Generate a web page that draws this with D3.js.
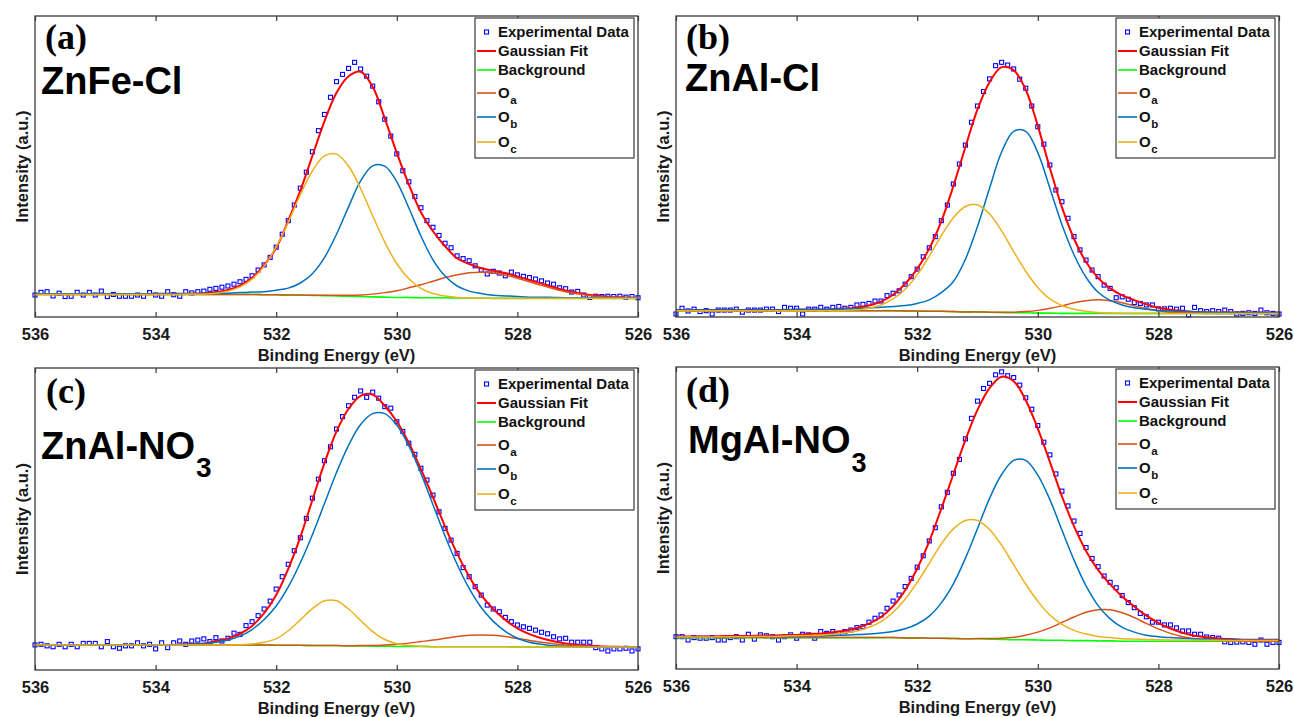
<!DOCTYPE html>
<html>
<head>
<meta charset="utf-8">
<script src="https://cdn.jsdelivr.net/npm/d3@7"></script>
<style>
  html, body { margin: 0; padding: 0; background: #ffffff; }
  svg { display: block; }
</style>
</head>
<body>
<svg id="chart" width="1294" height="717"></svg>
<script>
// ---------------- DATA ----------------
// Binding energy grid of the fitted curves (eV)
const energyFit = [536.0,535.8,535.6,535.4,535.2,535.0,534.8,534.6,534.4,534.2,534.0,533.8,533.6,533.4,533.2,533.0,532.8,532.6,532.4,532.2,532.0,531.8,531.6,531.4,531.2,531.0,530.8,530.6,530.4,530.2,530.0,529.8,529.6,529.4,529.2,529.0,528.8,528.6,528.4,528.2,528.0,527.8,527.6,527.4,527.2,527.0,526.8,526.6,526.4,526.2,526.0];
// Binding energy of the experimental points (eV)
const energyData = [536.0,535.9,535.8,535.7,535.6,535.5,535.4,535.3,535.2,535.1,
  535.0,534.9,534.8,534.7,534.6,534.5,534.4,534.3,534.2,534.1,
  534.0,533.9,533.8,533.7,533.6,533.5,533.4,533.3,533.2,533.1,
  533.0,532.9,532.8,532.7,532.6,532.5,532.4,532.3,532.2,532.1,
  532.0,531.9,531.8,531.7,531.6,531.5,531.4,531.3,531.2,531.1,
  531.0,530.9,530.8,530.7,530.6,530.5,530.4,530.3,530.2,530.1,
  530.0,529.9,529.8,529.7,529.6,529.5,529.4,529.3,529.2,529.1,
  529.0,528.9,528.8,528.7,528.6,528.5,528.4,528.3,528.2,528.1,
  528.0,527.9,527.8,527.7,527.6,527.5,527.4,527.3,527.2,527.1,
  527.0,526.9,526.8,526.7,526.6,526.5,526.4,526.3,526.2,526.1,
  526.0];
const xTicks = [536, 534, 532, 530, 528, 526];
const panelTags = ["(a)", "(b)", "(c)", "(d)"];
const sampleNames = [["ZnFe-Cl", ""], ["ZnAl-Cl", ""], ["ZnAl-NO", "3"], ["MgAl-NO", "3"]];
const legendLabels = [["Experimental Data", ""], ["Gaussian Fit", ""], ["Background", ""], ["O", "a"], ["O", "b"], ["O", "c"]];
const xTitle = "Binding Energy (eV)";
const yTitle = "Intensity (a.u.)";

// (a) ZnFe-Cl  (intensity in arbitrary units)
const aData = [7.3,8.2,8.4,7.0,7.9,6.8,6.9,8.2,7.3,8.2,
  7.3,8.6,6.8,7.5,6.9,6.9,6.9,7.3,6.9,8.1,
  7.3,6.9,8.4,7.4,6.9,8.4,8.0,8.4,8.6,9.2,
  9.5,9.9,10.3,10.9,11.7,12.5,13.7,15.6,17.3,19.8,
  23.2,27.5,32.0,37.2,42.8,48.1,54.9,61.9,67.3,73.0,
  78.2,80.6,82.6,84.6,82.4,80.0,76.7,71.5,65.7,60.1,
  54.2,48.6,44.9,40.0,36.3,32.0,29.8,27.1,24.5,23.0,
  20.3,19.4,18.7,17.0,15.6,14.3,15.2,14.6,13.7,14.9,
  14.0,13.5,13.1,12.6,12.0,11.3,10.9,9.7,9.4,8.3,
  8.5,7.3,6.5,6.9,6.8,6.9,6.8,6.9,6.6,6.8,
  6.4];
const aFit = [7.6,7.6,7.6,7.6,7.6,7.6,7.6,7.6,7.6,7.6,7.7,7.7,7.7,7.8,7.9,8.3,9.0,10.4,13.0,17.2,23.0,32.0,42.0,53.5,65.0,74.5,80.0,81.5,76.5,66.0,54.5,44.0,34.8,28.5,23.5,19.5,17.6,16.2,15.4,14.6,13.5,12.3,11.1,9.9,8.8,8.0,7.3,6.9,6.6,6.5,6.4];
const aBackground = [7.5,7.5,7.5,7.5,7.5,7.5,7.5,7.5,7.5,7.5,7.5,7.5,7.5,7.5,7.5,7.5,7.5,7.5,7.5,7.4,7.4,7.3,7.3,7.2,7.1,7.0,6.9,6.8,6.7,6.6,6.5,6.5,6.4,6.4,6.4,6.3,6.3,6.3,6.2,6.2,6.2,6.2,6.2,6.2,6.2,6.2,6.2,6.2,6.2,6.2,6.2];
const aOa = [7.5,7.5,7.5,7.5,7.5,7.5,7.5,7.5,7.5,7.5,7.5,7.5,7.5,7.5,7.5,7.5,7.5,7.5,7.5,7.4,7.4,7.3,7.3,7.2,7.2,7.2,7.2,7.3,7.6,8.1,8.7,9.7,10.7,11.9,13.1,14.0,14.7,14.9,14.6,13.9,12.9,11.7,10.5,9.4,8.4,7.7,7.1,6.7,6.5,6.4,6.3];
const aOb = [7.6,7.6,7.6,7.6,7.6,7.6,7.6,7.6,7.6,7.6,7.7,7.7,7.7,7.7,7.8,7.9,7.9,8.1,8.3,8.4,8.9,9.6,11.3,14.4,19.7,27.5,36.6,45.2,50.2,50.1,44.9,36.2,26.9,19.0,13.6,10.3,8.6,7.8,7.2,7.0,6.8,6.6,6.6,6.5,6.4,6.4,6.4,6.4,6.3,6.3,6.3];
const aOc = [7.5,7.5,7.5,7.5,7.5,7.5,7.5,7.5,7.5,7.5,7.5,7.5,7.5,7.6,7.6,7.9,8.6,10.0,12.6,16.9,23.3,31.5,40.6,48.5,53.5,54.1,50.1,42.7,33.6,24.9,17.7,12.7,9.5,7.8,7.0,6.5,6.3,6.3,6.2,6.2,6.2,6.2,6.2,6.2,6.2,6.2,6.2,6.2,6.2,6.2,6.2];

// (b) ZnAl-Cl
const bData = [1.0,2.9,2.0,2.6,1.8,2.1,1.0,2.3,2.3,2.3,
  2.6,1.6,2.3,2.3,2.3,2.6,2.6,1.8,3.2,2.9,
  2.9,1.0,2.6,2.6,3.2,2.6,3.2,3.5,2.9,3.2,
  4.0,4.2,4.5,5.3,5.3,7.1,7.9,8.7,10.9,13.4,
  15.9,20.0,23.0,26.7,32.0,37.2,44.2,50.8,57.1,64.7,
  70.1,74.9,79.1,83.5,84.6,83.7,82.4,79.0,76.0,70.1,
  63.2,57.4,50.5,42.2,38.3,32.8,26.7,22.3,18.9,15.6,
  13.4,10.6,9.5,6.4,6.7,5.9,4.8,4.5,4.0,4.0,
  2.7,2.7,2.9,2.6,2.9,0.7,3.2,2.1,1.8,2.1,
  1.8,2.3,1.8,1.0,1.2,1.4,1.2,2.3,1.4,1.2,
  1.0];
const bFit = [2.3,2.3,2.3,2.3,2.3,2.3,2.3,2.3,2.3,2.3,2.5,2.5,2.5,2.6,2.8,3.1,3.8,5.1,7.4,11.0,16.0,22.8,31.8,43.5,56.5,69.0,78.0,83.0,82.0,75.5,63.5,49.5,36.5,26.0,18.3,13.0,9.5,7.2,5.6,4.2,3.1,2.4,2.0,1.7,1.6,1.5,1.5,1.5,1.4,1.4,1.4];
const bBackground = [2.1,2.1,2.1,2.1,2.1,2.1,2.1,2.1,2.1,2.1,2.1,2.1,2.1,2.1,2.1,2.1,2.1,2.1,2.1,2.0,2.0,1.9,1.9,1.8,1.7,1.7,1.6,1.5,1.4,1.4,1.3,1.3,1.2,1.2,1.2,1.2,1.2,1.2,1.2,1.2,1.2,1.2,1.2,1.2,1.2,1.2,1.2,1.2,1.2,1.2,1.2];
const bOa = [2.1,2.1,2.1,2.1,2.1,2.1,2.1,2.1,2.1,2.1,2.1,2.1,2.1,2.1,2.1,2.1,2.1,2.1,2.1,2.0,2.0,1.9,1.9,1.8,1.7,1.7,1.6,1.6,1.6,1.8,2.2,2.9,3.7,4.7,5.4,5.7,5.4,4.7,3.7,2.8,2.1,1.6,1.4,1.3,1.2,1.2,1.2,1.2,1.2,1.2,1.2];
const bOb = [2.3,2.3,2.3,2.3,2.3,2.3,2.3,2.3,2.3,2.3,2.5,2.5,2.5,2.6,2.7,2.8,3.0,3.2,3.5,3.8,4.5,5.7,8.1,11.8,19.2,30.1,42.8,54.8,61.7,61.7,54.6,42.8,30.7,20.7,13.2,8.2,5.5,4.0,3.1,2.6,2.2,2.0,1.8,1.7,1.6,1.5,1.5,1.5,1.4,1.4,1.4];
const bOc = [2.1,2.1,2.1,2.1,2.1,2.1,2.1,2.1,2.1,2.1,2.1,2.1,2.1,2.1,2.2,2.4,2.9,4.0,6.0,9.2,14.0,20.2,27.0,33.0,36.7,37.3,34.2,28.6,21.7,15.2,9.8,6.0,3.8,2.6,1.9,1.5,1.3,1.2,1.2,1.2,1.2,1.2,1.2,1.2,1.2,1.2,1.2,1.2,1.2,1.2,1.2];

// (c) ZnAl-NO3
const cData = [8.3,8.5,8.0,7.7,8.5,7.7,8.5,7.7,8.8,8.8,
  8.8,7.7,9.4,7.7,7.2,8.0,8.0,9.0,8.0,8.5,
  7.0,9.0,7.4,9.0,9.6,8.5,9.6,9.9,10.3,9.4,
  10.7,9.6,10.5,12.2,11.8,14.7,16.0,18.0,20.2,22.8,
  26.8,30.9,35.0,39.5,43.8,50.2,56.9,63.2,69.3,73.9,
  79.8,83.9,87.5,90.3,92.4,90.3,92.0,90.0,87.2,86.7,
  82.2,79.0,75.1,71.4,66.8,62.9,57.9,52.4,46.9,43.0,
  38.6,33.9,30.9,27.6,24.8,21.5,20.2,19.3,17.4,16.0,
  14.9,14.3,13.8,13.2,12.5,12.0,11.0,10.3,10.5,9.2,
  9.2,9.2,9.2,7.4,7.0,6.3,7.0,7.0,7.2,6.3,
  7.0];
const cFit = [8.3,8.3,8.3,8.3,8.3,8.3,8.3,8.3,8.3,8.3,8.3,8.3,8.4,8.5,8.8,9.6,10.4,12.0,14.6,18.8,24.8,33.5,44.0,56.3,68.5,79.0,86.5,90.8,91.2,87.5,82.3,75.2,66.5,57.2,47.5,38.6,31.0,24.8,20.2,16.6,13.8,11.9,10.5,9.5,8.8,8.3,8.0,7.8,7.7,7.6,7.6];
const cBackground = [8.3,8.3,8.3,8.3,8.3,8.3,8.3,8.3,8.3,8.3,8.3,8.3,8.3,8.3,8.3,8.3,8.3,8.3,8.3,8.3,8.2,8.2,8.2,8.1,8.1,8.1,8.0,8.0,7.9,7.9,7.8,7.8,7.8,7.7,7.7,7.7,7.7,7.7,7.7,7.7,7.6,7.6,7.6,7.6,7.6,7.6,7.6,7.6,7.6,7.6,7.6];
const cOa = [8.3,8.3,8.3,8.3,8.3,8.3,8.3,8.3,8.3,8.3,8.3,8.3,8.3,8.3,8.3,8.3,8.3,8.3,8.3,8.3,8.2,8.2,8.2,8.1,8.1,8.1,8.0,8.1,8.1,8.3,8.5,8.9,9.4,9.9,10.5,11.1,11.5,11.6,11.5,11.1,10.4,9.8,9.2,8.7,8.3,8.0,7.8,7.7,7.6,7.6,7.6];
const cOb = [8.3,8.3,8.3,8.3,8.3,8.3,8.3,8.3,8.3,8.3,8.3,8.3,8.4,8.5,8.7,9.2,9.9,11.2,13.4,16.7,21.2,27.5,35.5,44.8,55.1,65.4,74.4,81.3,84.9,84.9,81.1,74.2,65.1,54.7,44.4,35.0,27.0,20.7,16.1,12.8,10.5,9.2,8.5,8.0,7.8,7.7,7.6,7.6,7.6,7.6,7.6];
const cOc = [8.3,8.3,8.3,8.3,8.3,8.3,8.3,8.3,8.3,8.3,8.3,8.3,8.3,8.3,8.3,8.3,8.3,8.4,8.6,9.2,10.4,13.0,16.6,20.3,22.9,22.9,20.2,16.4,12.7,10.1,8.7,8.1,7.9,7.7,7.7,7.7,7.7,7.7,7.7,7.7,7.6,7.6,7.6,7.6,7.6,7.6,7.6,7.6,7.6,7.6,7.6];

// (d) MgAl-NO3
const dData = [10.7,10.7,9.6,10.4,10.2,10.2,10.4,9.6,9.6,10.4,
  10.7,9.6,11.5,9.9,11.3,11.0,10.7,9.6,10.7,11.3,
  10.2,11.5,11.3,10.2,12.4,11.8,12.4,11.8,12.4,12.9,
  13.7,14.0,15.5,16.8,17.9,20.1,22.5,24.5,27.3,30.0,
  33.7,37.5,42.4,46.8,53.7,58.5,64.8,69.4,76.2,83.0,
  88.7,92.9,94.6,97.4,98.4,97.1,96.5,94.0,89.8,86.0,
  80.6,75.1,70.9,64.6,58.9,54.0,49.0,44.9,40.2,36.6,
  33.9,30.8,28.7,26.9,24.3,22.0,20.3,18.4,17.3,15.5,
  15.5,14.6,14.6,13.6,12.6,12.6,11.5,11.5,10.6,10.4,
  10.2,9.0,8.8,8.9,9.0,8.8,8.2,9.6,8.2,8.8,
  8.8];
const dFit = [10.8,10.8,10.8,10.8,10.9,10.9,10.9,11.1,11.1,11.2,11.3,11.6,11.7,12.2,12.7,13.6,15.0,17.2,20.8,26.1,33.3,42.3,53.1,64.5,75.9,85.8,93.0,96.8,95.3,89.0,79.6,68.6,57.2,47.3,39.1,32.8,28.0,24.0,20.7,17.7,15.3,13.4,12.0,11.0,10.5,10.1,9.9,9.7,9.7,9.7,9.7];
const dBackground = [10.4,10.4,10.4,10.4,10.4,10.4,10.4,10.4,10.4,10.4,10.4,10.4,10.4,10.4,10.4,10.4,10.4,10.4,10.4,10.3,10.3,10.2,10.2,10.1,10.0,10.0,9.9,9.8,9.7,9.7,9.6,9.5,9.5,9.4,9.4,9.3,9.3,9.2,9.2,9.2,9.2,9.2,9.2,9.2,9.2,9.2,9.2,9.2,9.2,9.2,9.2];
const dOa = [10.4,10.4,10.4,10.4,10.4,10.4,10.4,10.4,10.4,10.4,10.4,10.4,10.4,10.4,10.4,10.4,10.4,10.4,10.4,10.3,10.3,10.2,10.2,10.1,10.0,10.1,10.1,10.2,10.5,11.2,12.2,13.6,15.4,17.2,18.8,19.6,19.6,18.6,17.0,15.1,13.3,11.8,10.7,10.0,9.6,9.4,9.3,9.2,9.2,9.2,9.2];
const dOb = [10.7,10.7,10.7,10.7,10.7,10.7,10.7,10.8,10.8,10.8,10.8,10.9,10.9,11.1,11.2,11.4,11.6,11.9,12.4,13.3,14.9,17.5,21.9,28.2,36.7,46.5,56.5,64.4,69.1,69.1,64.2,56.1,46.0,36.1,27.5,21.0,16.6,13.8,12.2,11.2,10.7,10.4,10.2,10.0,9.9,9.7,9.7,9.6,9.6,9.6,9.6];
const dOc = [10.6,10.6,10.6,10.6,10.7,10.7,10.7,10.8,10.8,10.9,11.0,11.1,11.2,11.5,11.9,12.6,13.8,15.7,18.8,23.1,28.7,35.0,41.4,46.4,49.2,49.2,46.2,41.0,34.5,28.1,22.4,17.9,14.8,12.8,11.6,10.8,10.4,10.0,9.9,9.8,9.7,9.6,9.6,9.5,9.5,9.5,9.4,9.4,9.4,9.4,9.4];

// ---------------- LAYOUT / STYLE ----------------
const W = 1294, H = 717;
const SANS = '"Liberation Sans", Arial, Helvetica, sans-serif';
const SERIF = '"Liberation Serif", "Times New Roman", Times, serif';
const colors = { data: "#0000FF", fit: "#FF0000", bg: "#00FF00", oa: "#D95319", ob: "#0072BD", oc: "#EDB120" };
const seriesKeys = ["data", "fit", "bg", "oa", "ob", "oc"];

const panels = [
  { series: { data: aData, fit: aFit, bg: aBackground, oa: aOa, ob: aOb, oc: aOc },
    box: { L: 35, R: 638, T: 16, B: 317 }, tagPos: [45, 49], namePos: [41, 93.5], subDy: 0, subSize: 0 },
  { series: { data: bData, fit: bFit, bg: bBackground, oa: bOa, ob: bOb, oc: bOc },
    box: { L: 676, R: 1279, T: 16, B: 317 }, tagPos: [686, 49], namePos: [685, 91], subDy: 0, subSize: 0 },
  { series: { data: cData, fit: cFit, bg: cBackground, oa: cOa, ob: cOb, oc: cOc },
    box: { L: 35, R: 638, T: 368, B: 670 }, tagPos: [46, 403], namePos: [41, 459], subDy: 18, subSize: 28 },
  { series: { data: dData, fit: dFit, bg: dBackground, oa: dOa, ob: dOb, oc: dOc },
    box: { L: 676, R: 1279, T: 367, B: 669 }, tagPos: [686, 402], namePos: [688, 453], subDy: 19, subSize: 27 }
];

const svg = d3.select("#chart").attr("width", W).attr("height", H);
svg.append("rect").attr("width", W).attr("height", H).attr("fill", "#ffffff");
const defs = svg.append("defs");

panels.forEach((p, pi) => {
  const { L, R, T, B } = p.box;
  const x = d3.scaleLinear().domain([536, 526]).range([L, R]);
  const y = d3.scaleLinear().domain([0, 100]).range([B, T]);
  const g = svg.append("g");

  const clipId = "clip" + pi;
  defs.append("clipPath").attr("id", clipId)
    .append("rect").attr("x", L).attr("y", T).attr("width", R - L).attr("height", B - T);

  // experimental points
  g.append("g").selectAll("rect").data(p.series.data).join("rect")
    .attr("x", (d, i) => x(energyData[i]) - 2)
    .attr("y", d => y(d) - 2)
    .attr("width", 4).attr("height", 4)
    .attr("fill", "none").attr("stroke", colors.data).attr("stroke-width", 1.1);

  // fitted curves
  const line = d3.line()
    .x((d, i) => x(energyFit[i]))
    .y(d => y(d))
    .curve(d3.curveCatmullRom.alpha(0.5));
  const cg = g.append("g").attr("clip-path", `url(#${clipId})`);
  [["fit", 2], ["bg", 1.6], ["oa", 1.5], ["ob", 1.5], ["oc", 1.5]].forEach(([k, w]) => {
    cg.append("path").attr("d", line(p.series[k]))
      .attr("fill", "none").attr("stroke", colors[k]).attr("stroke-width", w)
      .attr("stroke-linejoin", "round");
  });

  // axes box
  g.append("rect").attr("x", L).attr("y", T).attr("width", R - L).attr("height", B - T)
    .attr("fill", "none").attr("stroke", "#3a3a3a").attr("stroke-width", 1.3);

  const xb = g.append("g").attr("transform", `translate(0,${B})`)
    .call(d3.axisBottom(x).tickValues(xTicks).tickSize(-5).tickPadding(11).tickFormat(d3.format("d")));
  xb.select(".domain").remove();
  xb.selectAll("line").attr("stroke", "#3a3a3a").attr("stroke-width", 1.2);
  xb.selectAll("text").attr("font-family", SANS).attr("font-weight", "bold")
    .attr("font-size", "16.5px").attr("fill", "#1a1a1a");

  const xt = g.append("g").attr("transform", `translate(0,${T})`)
    .call(d3.axisTop(x).tickValues(xTicks).tickSize(-5).tickFormat(""));
  xt.select(".domain").remove();
  xt.selectAll("line").attr("stroke", "#3a3a3a").attr("stroke-width", 1.2);

  // axis titles
  g.append("text").attr("x", (L + R) / 2).attr("y", B + 44)
    .attr("text-anchor", "middle").attr("font-family", SANS).attr("font-weight", "bold")
    .attr("font-size", "16.5px").attr("fill", "#1a1a1a").text(xTitle);
  g.append("text")
    .attr("transform", `translate(${L - 7.5},${(T + B) / 2}) rotate(-90)`)
    .attr("text-anchor", "middle").attr("font-family", SANS).attr("font-weight", "bold")
    .attr("font-size", "16.5px").attr("fill", "#1a1a1a").text(yTitle);

  // panel tag and sample name
  g.append("text").attr("x", p.tagPos[0]).attr("y", p.tagPos[1])
    .attr("font-family", SERIF).attr("font-weight", "bold").attr("font-size", "36px")
    .attr("fill", "#000").text(panelTags[pi]);
  const nm = g.append("text").attr("x", p.namePos[0]).attr("y", p.namePos[1])
    .attr("font-family", SANS).attr("font-weight", "bold").attr("font-size", "38px")
    .attr("fill", "#000");
  nm.append("tspan").text(sampleNames[pi][0]);
  if (sampleNames[pi][1]) {
    nm.append("tspan").attr("dy", p.subDy).attr("dx", 1).attr("font-size", p.subSize + "px")
      .text(sampleNames[pi][1]);
  }

  // legend
  const lx = R - 163, ly = T + 2, lw = 159, lh = 140;
  const rowOffsets = [14, 33, 52, 75, 99, 124];
  const lg = g.append("g");
  lg.append("rect").attr("x", lx).attr("y", ly).attr("width", lw).attr("height", lh)
    .attr("fill", "#ffffff").attr("stroke", "#3a3a3a").attr("stroke-width", 1.2);
  seriesKeys.forEach((k, i) => {
    const ry = ly + rowOffsets[i];
    if (k === "data") {
      lg.append("rect").attr("x", lx + 9.5).attr("y", ry - 2).attr("width", 4).attr("height", 4)
        .attr("fill", "none").attr("stroke", colors.data).attr("stroke-width", 1.1);
    } else {
      lg.append("line").attr("x1", lx + 2).attr("x2", lx + 21).attr("y1", ry).attr("y2", ry)
        .attr("stroke", colors[k]).attr("stroke-width", k === "fit" ? 2 : 1.6);
    }
    const t = lg.append("text").attr("x", lx + 23).attr("y", ry + 5.3)
      .attr("font-family", SANS).attr("font-weight", "bold").attr("font-size", "15px")
      .attr("fill", "#111");
    t.append("tspan").text(legendLabels[i][0]);
    if (legendLabels[i][1]) {
      t.append("tspan").attr("dy", 6).attr("dx", 0.5).attr("font-size", "11.5px").text(legendLabels[i][1]);
    }
  });
});
</script>
</body>
</html>
